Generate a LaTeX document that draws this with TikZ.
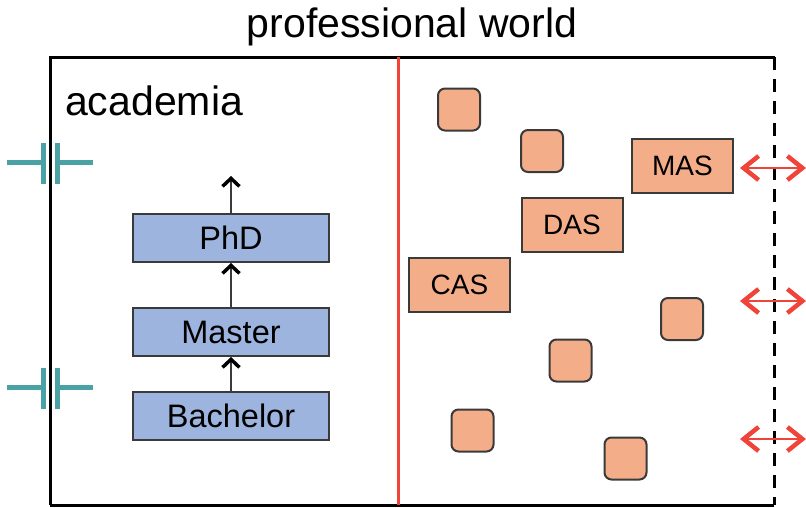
\documentclass[tikz,border=0pt]{standalone}
\usepackage{fontspec}
\setmainfont{Liberation Sans}
\usetikzlibrary{arrows.meta}
\definecolor{boxblue}{HTML}{9DB4DF}
\definecolor{boxorange}{HTML}{F4AD89}
\definecolor{tealc}{HTML}{4AA2A5}
\definecolor{redc}{HTML}{F0443B}
\definecolor{edgegray}{HTML}{3A3A3A}
\tikzset{
  degree/.style={draw=edgegray,line width=2pt,fill=boxblue,minimum width=196pt,minimum height=48pt,inner sep=0pt,font=\fontsize{32.5}{36}\selectfont},
  cert/.style={draw=edgegray,line width=2pt,fill=boxorange,minimum width=101pt,minimum height=54pt,inner sep=0pt,font=\fontsize{28}{32}\selectfont},
  sq/.style={draw=edgegray,line width=2pt,fill=boxorange,minimum width=42pt,minimum height=42pt,inner sep=0pt,rounded corners=7pt},
  uparrow/.style={draw=edgegray,line width=1.5pt,-{Straight Barb[length=8pt,width=17pt,line width=3.5pt,black]}},
  exch/.style={draw=redc,line width=1.5pt,{Straight Barb[length=15pt,width=24pt,line width=4.5pt]}-{Straight Barb[length=15pt,width=24pt,line width=4.5pt]}},
  frameline/.style={line width=3pt,black},
  capline/.style={tealc,line width=5pt},
}
\begin{document}
\begin{tikzpicture}[x=1pt,y=-1pt]
\useasboundingbox (0,0) rectangle (806,507);
% title and label
\node[anchor=base,inner sep=0pt,font=\fontsize{41}{46}\selectfont] (title) at (412,37) {professional world};
\node[anchor=base west,inner sep=0pt,font=\fontsize{41}{46}\selectfont] (acad) at (65,115) {academia};
% frame
\draw[frameline] (50,505) -- (50,57) -- (775,57);
\draw[frameline] (50,505) -- (774,505);
\draw[frameline,dash pattern=on 13pt off 9pt] (774,57) -- (774,505);
\draw[redc,line width=3pt] (398,57) -- (398,505);
% capacitors
\draw[capline] (7,162) -- (43.5,162) (57.5,162) -- (93,162);
\draw[capline] (43.5,143) -- (43.5,184) (57.5,143) -- (57.5,184);
\draw[capline] (7,387) -- (43.5,387) (57.5,387) -- (93,387);
\draw[capline] (43.5,368) -- (43.5,409) (57.5,368) -- (57.5,409);
\draw[frameline] (50,140) -- (50,190) (50,365) -- (50,412);
% degrees
\node[degree] (phd) at (231,238) {PhD};
\node[degree] (master) at (231,332) {Master};
\node[degree] (bachelor) at (231,416) {Bachelor};
\coordinate (up) at (231,176);
\draw[uparrow] (bachelor) -- (master);
\draw[uparrow] (master) -- (phd);
\draw[uparrow] (phd) -- (up);
% certificates
\node[cert] (mas) at (682.5,166) {MAS};
\node[cert] (das) at (572,225) {DAS};
\node[cert] (cas) at (459.5,285) {CAS};
\node[sq] (s1) at (459,109.5) {};
\node[sq] (s2) at (542,151) {};
\node[sq] (s3) at (682,319) {};
\node[sq] (s4) at (570.5,360.5) {};
\node[sq] (s5) at (472.5,430.5) {};
\node[sq] (s6) at (625.5,458.5) {};
% exchange arrows
\coordinate (a1l) at (740,168); \coordinate (a1r) at (806,168);
\coordinate (a2l) at (740,301); \coordinate (a2r) at (806,301);
\coordinate (a3l) at (740,439); \coordinate (a3r) at (806,439);
\draw[exch] (a1l) -- (a1r);
\draw[exch] (a2l) -- (a2r);
\draw[exch] (a3l) -- (a3r);
\end{tikzpicture}
\end{document}
